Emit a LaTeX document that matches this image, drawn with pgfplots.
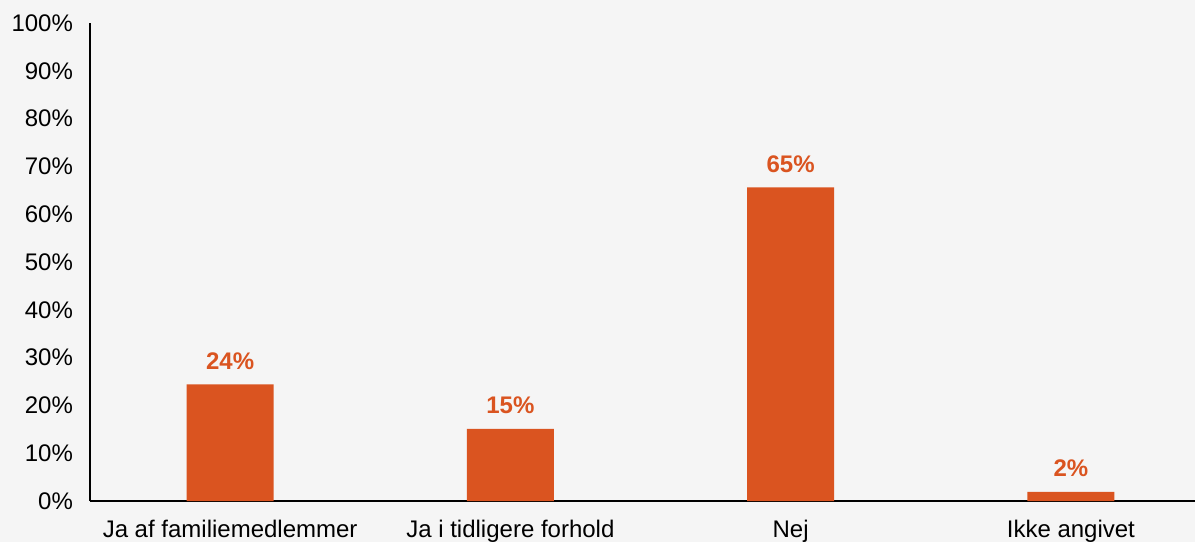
\documentclass[border=0pt]{standalone}
\usepackage{pgfplots}
\pgfplotsset{compat=1.18}
\usepackage{fontspec}
\setmainfont{Liberation Sans}
\definecolor{bg}{HTML}{F5F5F5}
\definecolor{barc}{HTML}{DA5420}
\begin{document}
\begin{tikzpicture}
\fill[bg] (0,0) rectangle (597.5pt,271pt);
\useasboundingbox (0,0) rectangle (597.5pt,271pt);
\begin{axis}[
  at={(45pt,20.5pt)}, anchor=south west,
  scale only axis,
  width=553pt, height=239pt,
  xmin=-0.5, xmax=3.4464,
  ymin=0, ymax=100,
  axis x line=bottom, axis y line=left,
  axis line style={-, black, line width=0.6pt},
  xtick={0,1,2,3},
  xticklabels={Ja af familiemedlemmer, Ja i tidligere forhold, Nej, Ikke angivet},
  ytick={0,10,...,100},
  yticklabel={\pgfmathprintnumber{\tick}\%},
  /pgf/number format/assume math mode=true,
  tick style={draw=none},
  major tick length=0pt,
  ticklabel style={font=\fontsize{12}{14}\selectfont, text=black},
  yticklabel style={xshift=-5pt},
  xticklabel style={yshift=-6pt},
  ybar, bar width=43.5pt,
  clip=false,
  nodes near coords,
  point meta=explicit symbolic,
  every node near coord/.append style={font=\bfseries\fontsize{12}{14}\selectfont, text=barc, anchor=south, yshift=4pt},
]
\addplot[fill=barc, draw=none] coordinates {
  (0,24.4) [24\%]
  (1,15.1) [15\%]
  (2,65.6) [65\%]
  (3,1.9) [2\%]
};
\end{axis}
\end{tikzpicture}
\end{document}
